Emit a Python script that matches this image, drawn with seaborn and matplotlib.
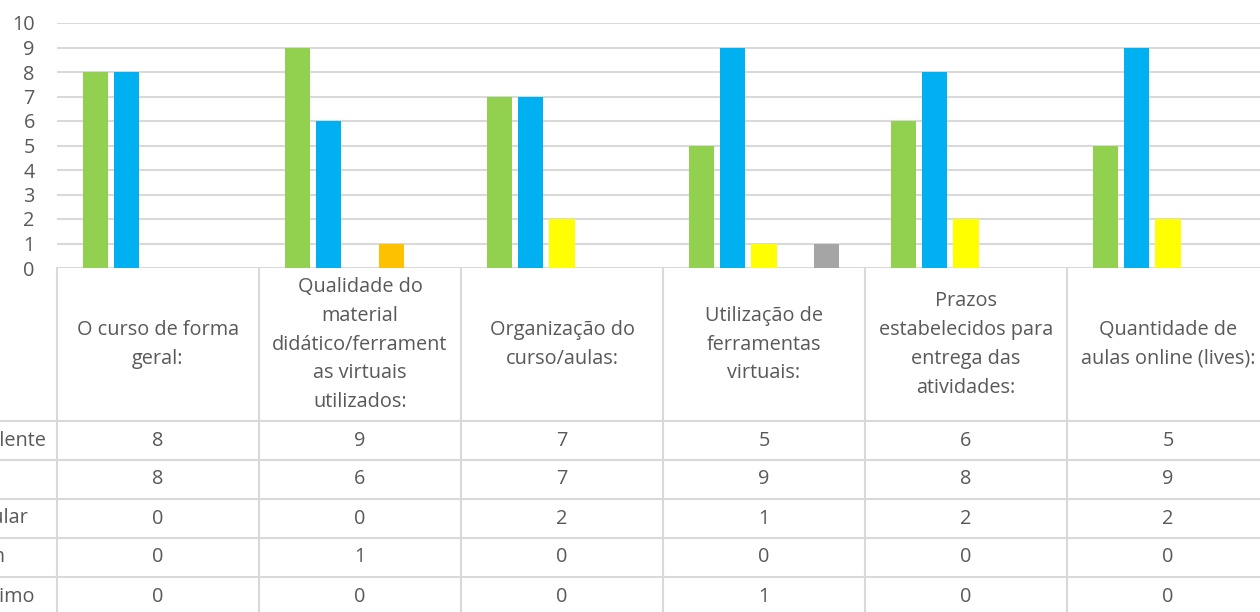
import matplotlib
matplotlib.use("Agg")
import pandas as pd
import matplotlib.pyplot as plt
import seaborn as sns
from matplotlib.transforms import blended_transform_factory
from matplotlib.lines import Line2D

# Data
categories = [
    "O curso de forma geral:",
    "Qualidade do material didático/ferramentas virtuais utilizados:",
    "Organização do curso/aulas:",
    "Utilização de ferramentas virtuais:",
    "Prazos estabelecidos para entrega das atividades:",
    "Quantidade de aulas online (lives):",
]
header_labels = [
    "O curso de forma\ngeral:",
    "Qualidade do\nmaterial\ndidático/ferrament\nas virtuais\nutilizados:",
    "Organização do\ncurso/aulas:",
    "Utilização de\nferramentas\nvirtuais:",
    "Prazos\nestabelecidos para\nentrega das\natividades:",
    "Quantidade de\naulas online (lives):",
]
ratings = ["Excelente", "Bom", "Regular", "Ruim", "Péssimo"]
excelente = [8, 9, 7, 5, 6, 5]
bom = [8, 6, 7, 9, 8, 9]
regular = [0, 0, 2, 1, 2, 2]
ruim = [0, 1, 0, 0, 0, 0]
pessimo = [0, 0, 0, 1, 0, 0]
colors = ["#92D050", "#00B0F0", "#FFFF00", "#FFC000", "#A5A5A5"]

series = [excelente, bom, regular, ruim, pessimo]
rows = []
for rating, values in zip(ratings, series):
    for cat, v in zip(categories, values):
        rows.append({"Item": cat, "Avaliação": rating, "Votos": v})
df = pd.DataFrame(rows)

sns.set_style("white")
plt.rcParams['font.family'] = ['Open Sans', 'DejaVu Sans']

text_color = "#595959"
line_color = "#D9D9D9"
W, H = 1260, 612
fs = 14.3

fig = plt.figure(figsize=(W / 100, H / 100), dpi=100)
ax = fig.add_axes([57 / W, 1 - 268 / H, 1212 / W, 245 / H])

sns.barplot(data=df, x="Item", y="Votos", hue="Avaliação", order=categories,
            hue_order=ratings, palette=colors, saturation=1, width=0.777, gap=0.2,
            errorbar=None, linewidth=0, legend=False, ax=ax)

ax.set_xlim(-0.5, len(categories) - 0.5)
ax.set_ylim(0, 10)
ax.set_yticks(range(11))
ax.yaxis.grid(True, color=line_color, lw=1.5)
ax.set_axisbelow(True)
ax.set_xticks([])
ax.set_xlabel("")
ax.set_ylabel("")
for s in ax.spines.values():
    s.set_visible(False)
ax.tick_params(axis="y", length=0, pad=16, labelsize=fs, labelcolor=text_color)


def fy(px):
    return 1 - px / H


trans = blended_transform_factory(ax.transData, fig.transFigure)

# data table: header row
for i, lab in enumerate(header_labels):
    ax.text(i, fy(344.5), lab, transform=trans, ha="center", va="center",
            fontsize=fs, color=text_color, linespacing=1.59, clip_on=False)

# vertical borders
for i in range(len(categories) + 1):
    ax.add_line(Line2D([i - 0.5, i - 0.5], [fy(268), fy(620)], transform=trans,
                       color=line_color, lw=1.5, clip_on=False))

# horizontal borders
row_tops = [421, 460, 499, 538, 577]
for y in row_tops:
    fig.add_artist(Line2D([0, 1], [fy(y), fy(y)], transform=fig.transFigure,
                          color=line_color, lw=1.5))

# data rows (row labels are cut by the left edge, as in the original)
for r, (rating, values) in enumerate(zip(ratings, series)):
    yc = fy(row_tops[r] + 19.5)
    fig.text(-43 / W, yc, rating, ha="left", va="center", fontsize=fs,
             color=text_color)
    for i, v in enumerate(values):
        ax.text(i, yc, str(v), transform=trans, ha="center", va="center",
                fontsize=fs, color=text_color, clip_on=False)

fig.savefig("out.png", dpi=100)
